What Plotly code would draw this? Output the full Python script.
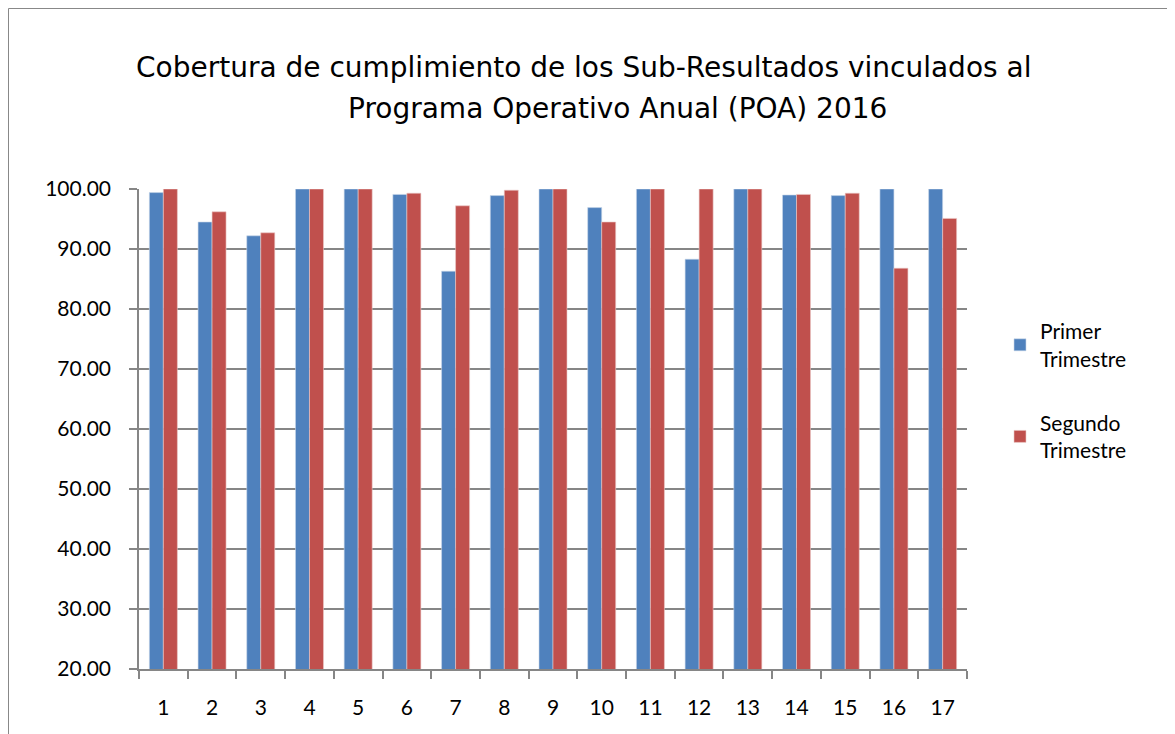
import plotly.graph_objs as go

# Sub-resultados 1..17
categories = [str(i) for i in range(1, 18)]
primer = [99.4, 94.5, 92.2, 100.0, 100.0, 99.1, 86.3, 98.9, 100.0,
          96.9, 100.0, 88.3, 100.0, 99.0, 98.9, 100.0, 100.0]
segundo = [100.0, 96.2, 92.7, 100.0, 100.0, 99.3, 97.2, 99.8, 100.0,
           94.5, 100.0, 100.0, 100.0, 99.1, 99.3, 86.8, 95.1]
series_names = ['Primer<br>Trimestre', 'Segundo<br>Trimestre']
title_lines = ['Cobertura de cumplimiento de los Sub-Resultados vinculados al',
               'Programa Operativo Anual (POA) 2016']

FONT = 'Lato, Calibri, sans-serif'
TFONT = 'DejaVu Sans, sans-serif'
GRID = '#868686'

traces = []
traces.append(go.Bar(
    x=categories, y=primer, name=series_names[0], legendgroup='a',
    marker=dict(color='#4F81BD', line=dict(width=0.6, color='#C9D6EA'))))
traces.append(go.Bar(
    x=categories, y=segundo, name=series_names[1], legendgroup='b',
    marker=dict(color='#C0504D', line=dict(width=0.6, color='#EBC9C8'))))

# the page puts the figure at (8, 8); target plot area in page px: x 139-967, y 189-669
OFF = 8
W, H = 1175 - OFF, 734 - OFF
L, T, B = 139 - OFF, 189 - OFF, 65
pw, ph = 828, 480
R = W - L - pw


def px(p):
    return (p - 139) / pw


def py(p):
    return (669 - p) / ph


annotations = [
    dict(text=title_lines[0], x=px(583), y=py(67), xref='paper', yref='paper',
         xanchor='center', yanchor='middle', showarrow=False,
         font=dict(family=TFONT, size=28, color='black')),
    dict(text=title_lines[1], x=px(617), y=py(109), xref='paper', yref='paper',
         xanchor='center', yanchor='middle', showarrow=False,
         font=dict(family=TFONT, size=28, color='black')),
]

layout = go.Layout(
    width=W, height=H,
    autosize=False,
    margin=dict(l=L, r=R, t=T, b=B, pad=0),
    paper_bgcolor='white',
    plot_bgcolor='white',
    barmode='group',
    bargap=0.425,
    bargroupgap=0,
    font=dict(family=FONT, size=21, color='black'),
    annotations=annotations,
    xaxis=dict(
        type='category',
        showline=True, linecolor=GRID, linewidth=1.5,
        ticks='outside', ticklen=8, tickcolor=GRID, tickwidth=1.5,
        tickson='boundaries',
        ticklabelstandoff=19,
        showgrid=False,
        tickfont=dict(size=21)),
    yaxis=dict(
        range=[20, 100], dtick=10, tick0=20,
        tickformat='.2f',
        showline=True, linecolor=GRID, linewidth=1.5,
        ticks='outside', ticklen=8, tickcolor=GRID, tickwidth=1.5,
        ticklabelstandoff=14,
        showgrid=True, gridcolor=GRID, gridwidth=1.5,
        zeroline=False,
        tickfont=dict(size=21)),
    legend=dict(x=px(1000), y=py(311),
                xanchor='left', yanchor='top',
                font=dict(size=21), tracegroupgap=34,
                itemwidth=30, bgcolor='rgba(0,0,0,0)'),
    shapes=[dict(type='rect', xref='paper', yref='paper',
                 x0=px(8.5), x1=px(1174),
                 y0=py(760), y1=py(8.5),
                 line=dict(color='#888888', width=1), layer='below')]
)

fig = go.Figure(data=traces, layout=layout)
fig.write_html("out.html")
